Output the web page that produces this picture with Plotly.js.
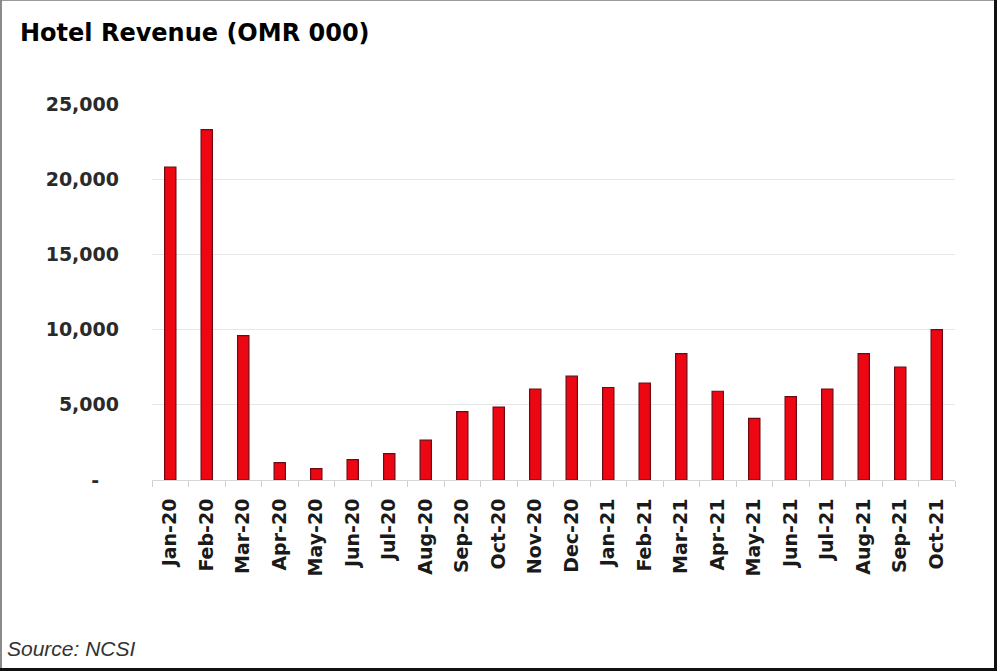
<!DOCTYPE html>
<html>
<head>
<meta charset="utf-8">
<script src="https://cdn.plot.ly/plotly-3.0.1.min.js"></script>
<style>
html,body{margin:0;padding:0;background:#fff;}
#wrap{position:relative;width:1000px;height:671px;overflow:hidden;}
#chart{position:absolute;left:0;top:0;width:1000px;height:671px;}
.b{position:absolute;pointer-events:none;}
</style>
</head>
<body>
<div id="wrap">
<div id="chart"></div>
<div class="b" style="left:0;top:0;width:996px;height:1px;background:#9a9a9a;"></div>
<div class="b" style="left:0;top:0;width:2px;height:668px;background:#8a8a8a;"></div>
<div class="b" style="left:994px;top:0;width:3px;height:671px;background:#111;"></div>
<div class="b" style="left:0;top:668px;width:997px;height:3px;background:#111;"></div>
</div>
<script>
const categories = ["Jan-20","Feb-20","Mar-20","Apr-20","May-20","Jun-20","Jul-20","Aug-20","Sep-20","Oct-20","Nov-20","Dec-20",
  "Jan-21","Feb-21","Mar-21","Apr-21","May-21","Jun-21","Jul-21","Aug-21","Sep-21","Oct-21"];
const revenue = [20800,23300,9600,1150,750,1350,1750,2650,4550,4850,6050,6900,
  6150,6450,8400,5900,4100,5550,6050,8400,7500,10000];
const yTickVals = [0,5000,10000,15000,20000,25000];
const yTickText = ["-\u00a0\u00a0\u00a0","5,000","10,000","15,000","20,000","25,000"];

const trace = {
  type: "bar",
  x: categories,
  y: revenue,
  width: 0.31,
  marker: {color: "#ec0712", line: {color: "#6e0a14", width: 1.2}},
  hoverinfo: "x+y"
};

const layout = {
  width: 1000, height: 671,
  margin: {l: 152, r: 45, t: 104, b: 191},
  paper_bgcolor: "#ffffff",
  plot_bgcolor: "#ffffff",
  showlegend: false,
  title: {
    text: "<b>Hotel Revenue (OMR 000)</b>",
    x: 0.02, xanchor: "left", xref: "container",
    y: 0.951, yanchor: "middle", yref: "container",
    font: {family: "DejaVu Sans, sans-serif", size: 24, color: "#000"}
  },
  xaxis: {
    type: "category",
    tickangle: -90,
    tickson: "boundaries",
    ticks: "outside", ticklen: 6, tickcolor: "#cfcfcf", tickwidth: 1,
    showline: true, linecolor: "#d6d6d6", linewidth: 1,
    showgrid: false,
    ticklabelstandoff: 10,
    tickfont: {family: "DejaVu Sans, sans-serif", size: 19, color: "#1a1a1a", weight: "bold"},
    fixedrange: true
  },
  yaxis: {
    range: [0, 25000],
    tickvals: yTickVals,
    ticktext: yTickText,
    showgrid: true, gridcolor: "#e6e6e6", gridwidth: 1,
    zeroline: false, showline: false, ticks: "",
    ticklabelstandoff: 32,
    tickfont: {family: "DejaVu Sans, sans-serif", size: 19, color: "#2a2a2a", weight: "bold"},
    fixedrange: true
  },
  annotations: [{
    text: "<i>Source: NCSI</i>",
    xref: "paper", yref: "paper",
    x: (5 - 152) / 803, y: (480 - 648) / 376,
    xanchor: "left", yanchor: "middle",
    showarrow: false,
    font: {family: "Liberation Sans, Arial, sans-serif", size: 21, color: "#333"}
  }]
};

Plotly.newPlot("chart", [trace], layout, {displayModeBar: false, staticPlot: true});
</script>
</body>
</html>
